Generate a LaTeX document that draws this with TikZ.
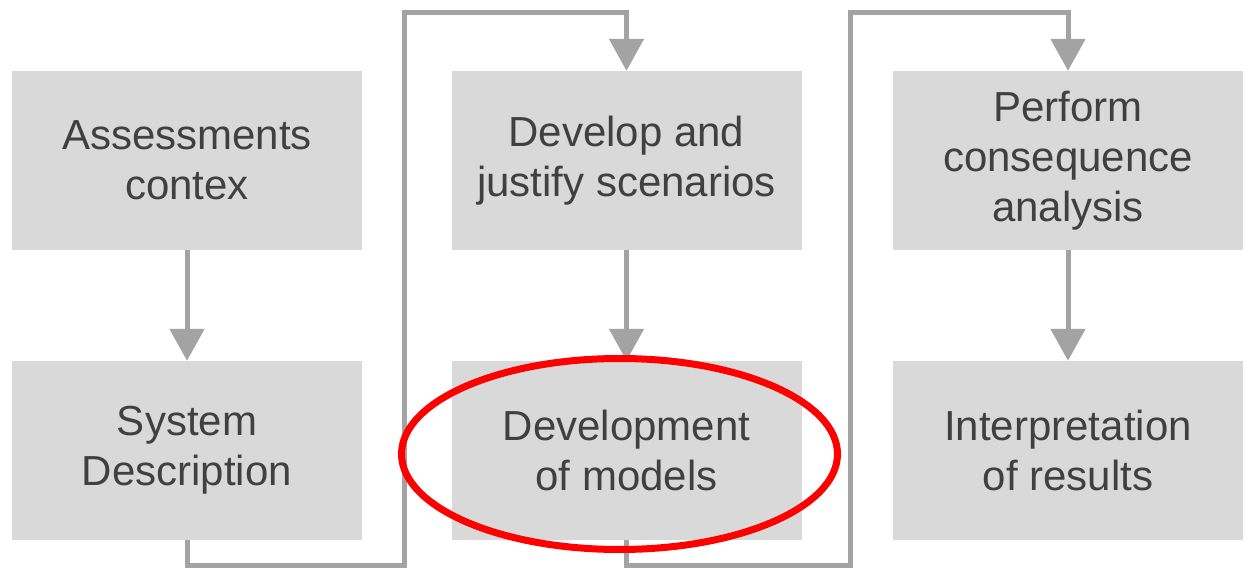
\documentclass[tikz,border=0pt]{standalone}
\usepackage{fontspec}
\setmainfont{Liberation Sans}
\usetikzlibrary{arrows.meta,shapes.geometric}
\definecolor{boxfill}{HTML}{D9D9D9}
\definecolor{linegray}{HTML}{A3A3A3}
\definecolor{txtgray}{HTML}{404040}
\begin{document}
\begin{tikzpicture}[x=1pt,y=-1pt,
  stepbox/.style={rectangle, fill=boxfill, draw=none, minimum width=350pt, minimum height=179pt,
    inner sep=0pt, align=center, text=txtgray, font=\fontsize{42}{50}\selectfont},
  conn/.style={draw=linegray, line width=5pt, line join=miter,
    -{Triangle[length=32pt,width=34pt]}},
  mark/.style={}]
\useasboundingbox (0,0) rectangle (1248,572);
\node[stepbox] (b1) at (187,160.5) {Assessments\\contex};
\node[stepbox] (b2) at (187,450.5) {System\\Description};
\node[stepbox] (b3) at (626.5,160.5) {Develop and\\justify scenarios};
\node[stepbox] (b4) at (626.5,450.5) {Development\\of models};
\node[stepbox] (b5) at (1068,160.5) {Perform\\consequence\\analysis};
\node[stepbox] (b6) at (1068,450.5) {Interpretation\\of results};
\coordinate (c1) at (404,565);
\coordinate (c2) at (404,13);
\coordinate (c3) at (850,565);
\coordinate (c4) at (850,13);
\draw[conn] (b1.south) -- (b2.north);
\draw[conn] (b3.south) -- (b4.north);
\draw[conn] (b5.south) -- (b6.north);
\draw[conn] (b2.south) |- (c1) -- (c2) -| (b3.north);
\draw[conn] (b4.south) |- (c3) -- (c4) -| (b5.north);
\node[ellipse, draw=red, line width=7pt, minimum width=436pt, minimum height=191pt, inner sep=0pt] (hl) at (619.5,454) {};
\end{tikzpicture}
\end{document}
